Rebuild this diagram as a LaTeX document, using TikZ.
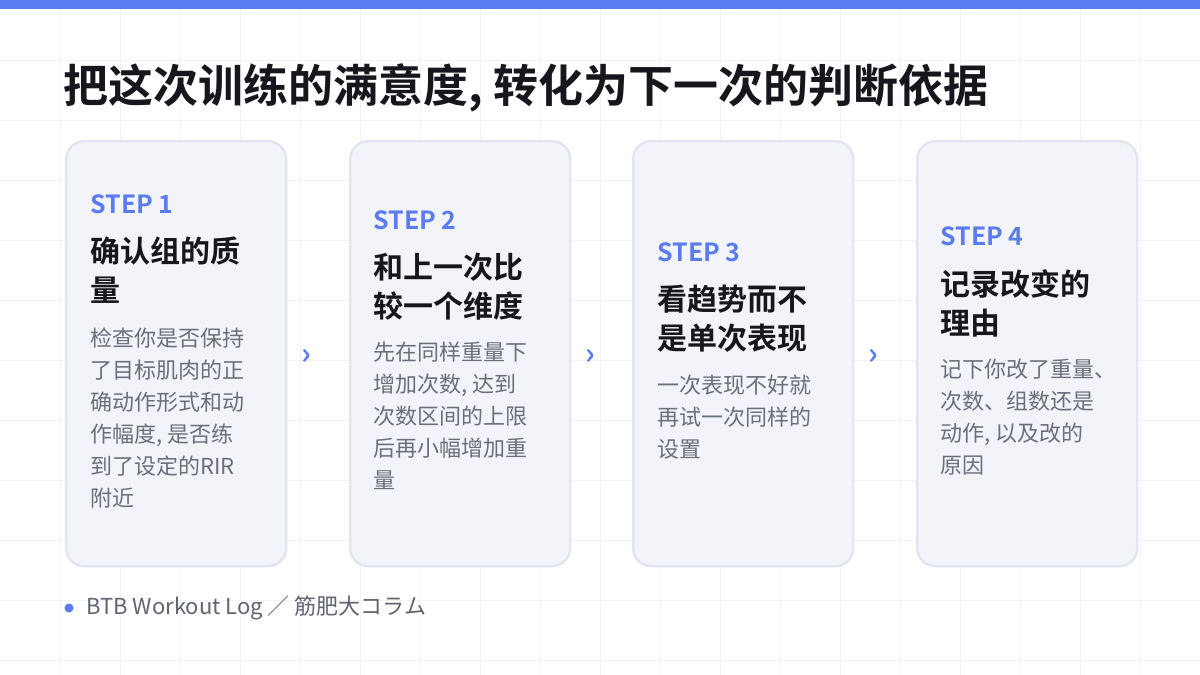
\documentclass[tikz,border=0pt]{standalone}
\usepackage{fontspec}
\setmainfont{Noto Sans CJK SC}
\newfontfamily\cjkb{Noto Sans CJK SC Bold}
\definecolor{accent}{HTML}{5B7CF0}
\definecolor{cardfill}{HTML}{F3F4FA}
\definecolor{cardline}{HTML}{E1E5EF}
\definecolor{ink}{HTML}{15171C}
\definecolor{body}{HTML}{6B6F7A}
\definecolor{gridc}{HTML}{F2F3F6}
\begin{document}
\begin{tikzpicture}[x=0.5pt,y=-0.5pt,
 card/.style={draw=cardline,line width=1.2pt,fill=cardfill,rounded corners=9pt,minimum width=110pt,minimum height=212.5pt,anchor=north west,inner sep=0},
 stepl/.style={anchor=north west,inner sep=0,text=accent,font=\cjkb\fontsize{12.5}{14}\selectfont},
 head/.style={anchor=north west,inner sep=0,text=ink,align=left,font=\cjkb\fontsize{15}{19.5}\selectfont},
 txt/.style={anchor=north west,inner sep=0,text=body,align=left,font=\fontsize{11}{16}\selectfont},
 arr/.style={text=accent,font=\cjkb\fontsize{15}{15}\selectfont}]
\useasboundingbox (0,0) rectangle (1200,675);
\fill[white] (0,0) rectangle (1200,675);
\foreach \x in {60,120,...,1140} \draw[gridc,line width=0.5pt] (\x,9) -- (\x,675);
\foreach \y in {60,120,...,660} \draw[gridc,line width=0.5pt] (0,\y) -- (1200,\y);
\fill[accent] (0,0) rectangle (1200,9);
\node[anchor=west,inner sep=0,text=ink,font=\cjkb\fontsize{22.5}{24}\selectfont] (title) at (63,88) {把这次训练的满意度, 转化为下一次的判断依据};
\node[card] (c1) at (65,140) {};
\node[card] (c2) at (349,140) {};
\node[card] (c3) at (632,140) {};
\node[card] (c4) at (916,140) {};
\node[stepl] (s1) at (90,194) {STEP 1};
\node[head] (h1) at (90,236) {确认组的质\\量};
\node[txt] (t1) at (90,327) {检查你是否保持\\了目标肌肉的正\\确动作形式和动\\作幅度, 是否练\\到了设定的RIR\\附近};
\node[stepl] (s2) at (373,210) {STEP 2};
\node[head] (h2) at (373,253) {和上一次比\\较一个维度};
\node[txt] (t2) at (373,342) {先在同样重量下\\增加次数, 达到\\次数区间的上限\\后再小幅增加重\\量};
\node[stepl] (s3) at (657,242) {STEP 3};
\node[head] (h3) at (657,285) {看趋势而不\\是单次表现};
\node[txt] (t3) at (657,375) {一次表现不好就\\再试一次同样的\\设置};
\node[stepl] (s4) at (940,226) {STEP 4};
\node[head] (h4) at (940,269) {记录改变的\\理由};
\node[txt] (t4) at (940,359) {记下你改了重量、\\次数、组数还是\\动作, 以及改的\\原因};
\node[arr] (a1) at (306,357) {›};
\node[arr] (a2) at (590,357) {›};
\node[arr] (a3) at (873,357) {›};
\fill[accent] (69,608) circle (4.5);
\node[anchor=west,inner sep=0,text=body!90!black,font=\fontsize{11}{12}\selectfont] (foot) at (86,608) {BTB Workout Log ／ 筋肥大コラム};
\end{tikzpicture}
\end{document}
